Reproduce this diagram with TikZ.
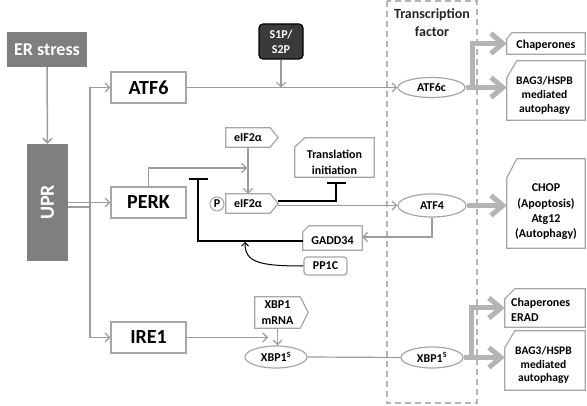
\documentclass[tikz,border=0pt]{standalone}
\usepackage{fontspec}
\setmainfont{Carlito}
\usetikzlibrary{arrows.meta,calc,shapes.geometric}
\definecolor{gl}{HTML}{9C9C9C}
\definecolor{gb}{HTML}{A6A6A6}
\definecolor{gf}{HTML}{7F7F7F}
\definecolor{gt}{HTML}{B4B4B4}
\definecolor{dk}{HTML}{3A3A3A}
\newcommand\tagshape[2]{\draw[outline] (#1.north west) -- (#1.north east) -- ($(#1.east)+(#2,0)$) -- (#1.south east) -- (#1.south west) -- cycle;}
\newcommand\snipshape[3]{\draw[outline] (#1.north east) -- (#1.south east) -- (#1.south west) -- ($(#1.north west)+(0,#3)$) -- ($(#1.north west)+(#2,0)$) -- cycle;}
\begin{document}
\begin{tikzpicture}[x=1pt,y=-1pt,
  big/.style={font=\fontsize{20}{22}\selectfont\bfseries},
  sm/.style={font=\fontsize{12}{16}\selectfont\bfseries},
  box/.style={draw=gb, line width=1.2pt, minimum width=75pt, minimum height=31pt, inner sep=0pt, big},
  plain/.style={inner sep=0pt, align=center, sm},
  empt/.style={inner sep=0pt},
  ell/.style={ellipse, draw=gb, fill=white, line width=1.2pt, inner sep=0pt, sm},
  outline/.style={draw=gb, line width=1.2pt},
  conn/.style={draw=gl, line width=1.2pt},
  arr/.style={conn, -{Straight Barb[length=4.5pt,width=9pt]}},
  blk/.style={draw=black, line width=1.8pt},
  inh/.style={blk, -{Bar[width=19pt]}},
  fat/.style={draw=gt, line width=5pt, -{Straight Barb[length=12pt,width=20pt]}},
]
\useasboundingbox (0,0) rectangle (587,406);
\fill[white] (0,0) rectangle (587,406);

% transcription factor frame
\draw[draw=gt, line width=1.2pt, dash pattern=on 6pt off 4pt] (387,1) rectangle (477,403);
\node[align=center, font=\fontsize{14}{18}\selectfont\bfseries, text=black!85] (TF) at (432,23) {Transcription\\factor};

% left column
\node[fill=gf, minimum width=80pt, minimum height=35pt, inner sep=0pt, text=white, font=\fontsize{18}{20}\selectfont\bfseries] (ER) at (47,49.5) {ER stress};
\node[fill=gf, minimum width=41pt, minimum height=117pt, inner sep=0pt] (UPR) at (47.5,202.5) {};
\node[rotate=90, text=white, big] (UPRt) at (UPR.center) {UPR};

\node[box] (ATF6) at (148.5,87.5) {ATF6};
\node[box] (PERK) at (148.5,202.5) {PERK};
\node[box] (IRE1) at (148.5,337.5) {IRE1};

\node[draw=black, fill=dk, rounded corners=4pt, line width=1.2pt, minimum width=44pt, minimum height=35pt, inner sep=0pt, align=center, text=white, font=\fontsize{12}{15}\selectfont\bfseries] (S1P) at (281,41.5) {S1P/\\S2P};

% ellipses
\node[ell, minimum width=67pt, minimum height=20pt] (ATF6c) at (431.5,87.5) {ATF6c};
\node[ell, minimum width=68pt, minimum height=23pt] (ATF4) at (432,205.5) {ATF4};
\node[ell, minimum width=62pt, minimum height=22pt] (XBPL) at (276,357) {XBP1\textsuperscript{S}};
\node[ell, minimum width=62pt, minimum height=21pt] (XBPR) at (432,357.5) {XBP1\textsuperscript{S}};

% tags
\node[plain, minimum width=44pt, minimum height=19pt] (eIFa) at (248,137.5) {eIF2α};
\tagshape{eIFa}{8}
\node[plain, minimum width=44pt, minimum height=19pt] (peIF) at (248,203.5) {eIF2α};
\tagshape{peIF}{8}
\coordinate (peIFtip) at ($(peIF.east)+(8,0)$);
\node[circle, draw=gb, line width=1pt, minimum size=14pt, inner sep=0pt, sm] (P) at (217,204) {P};
\node[plain, minimum width=45pt, minimum height=31pt] (XBPm) at (277.5,312.5) {XBP1\\mRNA};
\tagshape{XBPm}{8}

% snipped boxes
\node[empt, minimum width=79pt, minimum height=39pt] (TI) at (334.5,157.5) {};
\snipshape{TI}{10}{9}
\node[plain] (TIt) at (334.5,162) {Translation\\initiation};

\node[empt, minimum width=59pt, minimum height=24pt] (GADD) at (332.5,238) {};
\snipshape{GADD}{6}{6}
\node[plain] (GADDt) at (332.5,240.5) {GADD34};

\node[draw=gb, rounded corners=3pt, line width=1.2pt, minimum width=43pt, minimum height=18pt, inner sep=0pt, sm] (PP1C) at (325.5,266) {PP1C};

\node[empt, minimum width=78pt, minimum height=21pt] (Chap1) at (546,43.5) {};
\snipshape{Chap1}{5}{6}
\node[plain] (Chap1t) at (546,45) {Chaperones};

\node[empt, minimum width=78pt, minimum height=59pt] (BAG1) at (546,90.5) {};
\snipshape{BAG1}{10}{17}
\node[plain, font=\fontsize{11.5}{14}\selectfont\bfseries] (BAG1t) at (544.5,95) {BAG3/HSPB\\mediated\\autophagy};

\node[empt, minimum width=78pt, minimum height=89pt] (CHOP) at (546,203.5) {};
\snipshape{CHOP}{10}{19}
\node[plain, font=\fontsize{12}{15.3}\selectfont\bfseries] (CHOPt) at (546,212) {CHOP\\(Apoptosis)\\Atg12\\(Autophagy)};

\node[empt, minimum width=80pt, minimum height=38pt] (ChapE) at (545,308) {};
\snipshape{ChapE}{10}{10}
\node[plain, align=left, anchor=west, font=\fontsize{12}{15}\selectfont\bfseries] (ChapEt) at (511,309.5) {Chaperones\\ERAD};

\node[empt, minimum width=80pt, minimum height=59pt] (BAG2) at (545,360.5) {};
\snipshape{BAG2}{10}{17}
\node[plain, font=\fontsize{11.5}{13.5}\selectfont\bfseries] (BAG2t) at (543.5,365) {BAG3/HSPB\\mediated\\autophagy};

% coordinates
\coordinate (tr) at (90,207);
\coordinate (kk) at (247,168);
\coordinate (gx) at (198,178);
\coordinate (ire) at (268,337.5);
\coordinate (pp) at (245,242);

% left connectors
\draw[arr, line width=1.5pt] (ER.south) -- (UPR.north);
\draw[arr] (UPR.east) -- (PERK.west);
\draw[conn] (UPR.east |- tr) -- (tr);
\draw[arr] (tr) |- (ATF6.west);
\draw[arr] (tr) |- (IRE1.west);

% ATF6 branch
\draw[arr] (ATF6.east) -- (ATF6c.west);
\draw[arr] (S1P.south) -- (S1P.south |- ATF6.east);

% PERK branch
\draw[arr] (PERK.north) |- (kk);
\draw[arr] (eIFa.south) -- (peIF.north);
\draw[inh] ($(peIFtip)+(0,-2.5)$) -| ($(TI.south)+(1.5,5)$);
\draw[arr] ($(peIFtip)+(0,2)$) -- (ATF4.west);
\draw[arr] (ATF4.south) |- ($(GADD.east)+(0,-1)$);
\draw[inh] ($(GADD.west)+(0,3)$) -| (gx);
\draw[draw=black, line width=1pt, -{Straight Barb[length=3.5pt,width=7pt]}] (PP1C.west) .. controls (258,266) and (245,262) .. (pp);

% IRE1 branch
\draw[arr] (IRE1.east) -- (ire);
\draw[arr] (XBPm.south) -- (XBPm.south |- XBPL.north);
\draw[conn] (XBPL.east) -- (XBPR.west);

% thick outputs
\draw[fat] (ATF6c.east) -- ++(7,0) |- (Chap1.west);
\draw[fat] (ATF6c.east) -- (BAG1.west |- ATF6c.east);
\draw[fat] (ATF4.east) -- (CHOP.west |- ATF4.east);
\draw[fat] (XBPR.east) -- ++(8,0) |- (ChapE.west);
\draw[fat] (XBPR.east) -- (BAG2.west |- XBPR.east);
\end{tikzpicture}
\end{document}
